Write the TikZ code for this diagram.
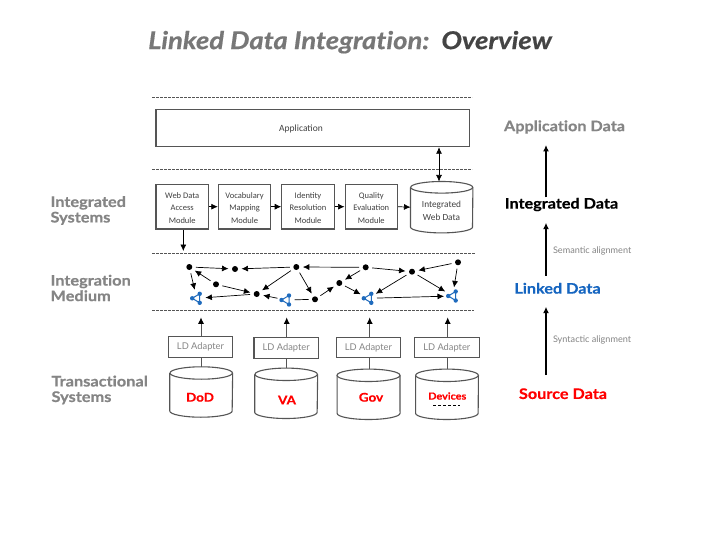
\documentclass[tikz,border=0pt]{standalone}
\usepackage{fontspec}
\setmainfont{Lato}
\newfontfamily\bodyfont{Carlito}
\newfontfamily\headfont[FakeStretch=1.12,Ligatures=NoCommon,BoldFeatures={FakeBold=0.5},BoldItalicFeatures={FakeBold=0.5}]{Lato}
\usetikzlibrary{arrows.meta}
\definecolor{labelgray}{HTML}{858585}
\definecolor{titlegray}{HTML}{777777}
\definecolor{titledark}{HTML}{444444}
\definecolor{linkblue}{HTML}{1565C0}
\definecolor{molblue}{HTML}{1F6BBD}
\definecolor{linegray}{HTML}{555555}
\tikzset{
  x=1pt,y=-1pt,
  sepline/.style={draw=linegray,line width=0.9pt,dash pattern=on 2.6pt off 1.4pt},
  modbox/.style={draw=linegray,line width=1.1pt,minimum width=52.5pt,minimum height=44.7pt,inner sep=0pt,align=center,font=\bodyfont\fontsize{8.5}{12.3}\selectfont,text=black!75},
  adbox/.style={draw=linegray,line width=1.1pt,minimum width=64.5pt,minimum height=20.8pt,inner sep=0pt,font=\fontsize{9.3}{11}\selectfont\color{labelgray}},
  store/.style={inner sep=0pt,minimum width=62.5pt,minimum height=50pt},
  srcname/.style={font=\headfont\bfseries\fontsize{12}{14}\selectfont,text=red},
  flow/.style={-{Latex[length=6.5pt,width=6pt]},black,line width=0.7pt},
  upflow/.style={-{Latex[length=6.5pt,width=6pt,black]},linegray,line width=1pt},
  bigflow/.style={-{Latex[length=6.5pt,width=6pt]},black,line width=1.8pt},
  pt/.style={circle,fill=black,inner sep=0pt,minimum size=6pt,outer sep=3.5pt},
  mol/.style={circle,inner sep=0pt,minimum size=17pt},
  sidelabel/.style={anchor=west,align=left,text=labelgray,font=\headfont\bfseries\fontsize{14.6}{15.5}\selectfont},
  datalabel/.style={font=\headfont\bfseries\fontsize{14.5}{15}\selectfont},
  note/.style={anchor=west,text=labelgray,font=\fontsize{9.1}{10}\selectfont},
}
\newcommand{\modtop}{\rule{0pt}{8.5pt}}
\newcommand{\adlabel}[1]{\raisebox{-1.3pt}{LD Adapter}\hspace{#1pt}}
\newcommand{\molglyph}[1]{%
  \draw[molblue,line width=1pt] ([xshift=-4.5pt]#1.center) -- ([xshift=3pt,yshift=4.5pt]#1.center) -- ([xshift=3pt,yshift=-4.5pt]#1.center) -- cycle;
  \fill[molblue] ([xshift=-4.5pt]#1.center) circle (2.2pt) ([xshift=3pt,yshift=4.5pt]#1.center) circle (2.2pt) ([xshift=3pt,yshift=-4.5pt]#1.center) circle (2.2pt);
}
% drum outline round a named node: #1 name, #2 x radius, #3 y radius
\newcommand{\drum}[3]{%
  \draw[linegray,line width=1.1pt,fill=white] ([yshift=-#3pt]#1.north west) -- ([yshift=#3pt]#1.south west) arc (180:360:#2pt and #3pt) -- ([yshift=-#3pt]#1.north east);
  \draw[linegray,line width=1.1pt,fill=white] ([yshift=-#3pt]#1.north) ellipse (#2pt and #3pt);
}
\begin{document}
\begin{tikzpicture}
\useasboundingbox (0,0) rectangle (720,540);
\fill[white] (0,0) rectangle (720,540);

% title
\node[anchor=west,inner sep=0pt,font=\headfont\bfseries\itshape\fontsize{24.5}{26}\selectfont] (title) at (148,42.2) {\textcolor{titlegray}{Linked Data Integration:}\hspace{12pt}\textcolor{titledark}{Overview}};

% separators
\coordinate (s1a) at (152,97.3); \coordinate (s1b) at (472,97.3);
\coordinate (s2a) at (152,169);  \coordinate (s2b) at (472,169);
\coordinate (s3a) at (152,253.7);\coordinate (s3b) at (475,253.7);
\coordinate (s4a) at (152,310.3);\coordinate (s4b) at (474,310.3);
\draw[sepline] (s1a) -- (s1b);
\draw[sepline] (s2a) -- (s2b);
\draw[sepline] (s3a) -- (s3b);
\draw[sepline] (s4a) -- (s4b);

% application
\node[draw=linegray,line width=1.1pt,minimum width=313.3pt,minimum height=37.4pt,inner sep=0pt] (app) at (312.6,128) {};
\node[font=\bodyfont\fontsize{9.5}{11}\selectfont,text=black!75] (applabel) at (301,128.6) {Application};

% modules
\node[modbox] (m1) at (182.2,206.7) {\modtop Web Data\\Access\\Module};
\node[modbox] (m2) at (244.6,206.7) {\modtop Vocabulary\\Mapping\\Module};
\node[modbox] (m3) at (308,206.7) {\modtop Identity\\Resolution\\Module};
\node[modbox] (m4) at (371.3,206.7) {\modtop Quality\\Evaluation\\Module};
\node[store,minimum width=62pt,minimum height=51pt] (iw) at (441.7,207.2) {};
\drum{iw}{31}{5.8}
\node[align=center,font=\bodyfont\fontsize{9.3}{13.5}\selectfont,text=black!75] (iwlabel) at (441.5,211) {Integrated\\Web Data};
\draw[flow] (m1.east) -- (m2.west);
\draw[flow] (m2.east) -- (m3.west);
\draw[flow] (m3.east) -- (m4.west);
\draw[flow] (m4.east) -- (iw.west);
\coordinate (vx) at (439,0);
\draw[flow,{Latex[length=6.5pt,width=6pt]}-{Latex[length=6.5pt,width=6pt]}] (app.south -| vx) -- (iw.north -| vx);
\coordinate (dn) at (183.3,251);
\draw[flow] (m1.south -| dn) -- (dn);

% integration medium
\node[pt] (a) at (189.3,267) {};
\node[pt] (b) at (235,269) {};
\node[pt] (c) at (296.3,267) {};
\node[pt] (d) at (216,284.3) {};
\node[pt] (e) at (256.7,294) {};
\node[pt] (f) at (315,299.3) {};
\node[pt] (g) at (365.7,267.3) {};
\node[pt] (h) at (412,271.7) {};
\node[pt] (i) at (458,262.3) {};
\node[pt] (j) at (339.3,283) {};
\node[mol] (w1) at (196.7,298.3) {};
\node[mol] (w2) at (286,300) {};
\node[mol] (w3) at (368.3,298.3) {};
\node[mol] (w4) at (452.7,296) {};
\molglyph{w1}\molglyph{w2}\molglyph{w3}\molglyph{w4}
\draw[flow] (a) -- (b);
\draw[flow] (c) -- (b);
\draw[flow] (g) -- (c);
\draw[flow] (a) -- (w1);
\draw[flow] (d) -- (a);
\draw[flow] (d) -- (e);
\draw[flow] (c) -- (e);
\draw[flow] (c) -- (f);
\draw[flow] (e) -- (w1);
\draw[flow] (w2) -- (e);
\draw[black,line width=0.7pt] (f) -- (w2);
\draw[flow] (f) -- (j);
\draw[flow] (j) -- (w3);
\draw[flow] (g) -- (j);
\draw[flow] (g) -- (h);
\draw[flow] (i) -- (h);
\draw[flow] (h) -- (w3);
\draw[flow] (h) -- (w4);
\draw[flow] (i) -- (w4);
\draw[flow] (w3) -- (w4);

% adapters and sources
\node[adbox] (l1) at (200.5,346.8) {\adlabel{5.6}};
\node[adbox] (l2) at (286.2,347.8) {\adlabel{9}};
\node[adbox] (l3) at (368.4,347.5) {\adlabel{6}};
\node[adbox] (l4) at (446.8,347.5) {\adlabel{6.6}};
\node[store] (c1) at (201.2,392) {};
\node[store] (c2) at (286.2,393.3) {};
\node[store] (c3) at (368.5,394.3) {};
\node[store] (c4) at (447,394.3) {};
\drum{c1}{31.2}{6.2}\drum{c2}{31.2}{6.2}\drum{c3}{31.5}{6.2}\drum{c4}{31.3}{6.2}
\node[srcname] (n1) at (200,397.3) {DoD};
\node[srcname] (n2) at (287,400) {VA};
\node[srcname] (n3) at (371,397.3) {Gov};
\node[srcname,font=\headfont\bfseries\fontsize{9.7}{12}\selectfont] (n4) at (447.3,396) {Devices};
\coordinate (da) at (433.3,405.7); \coordinate (db) at (460,405.7);
\draw[black,line width=0.9pt,dash pattern=on 3pt off 2pt] (da) -- (db);
\coordinate (t1) at (201,317.3); \coordinate (t2) at (286.7,317.3);
\coordinate (t3) at (369.7,317.3); \coordinate (t4) at (447.7,317.3);
\draw[upflow,-] (c1.north -| t1) -- (l1.south -| t1);
\draw[upflow,-] (c2.north -| t2) -- (l2.south -| t2);
\draw[upflow,-] (c3.north -| t3) -- (l3.south -| t3);
\draw[upflow,-] (c4.north -| t4) -- (l4.south -| t4);
\draw[upflow] (l1.north -| t1) -- (t1);
\draw[upflow] (l2.north -| t2) -- (t2);
\draw[upflow] (l3.north -| t3) -- (t3);
\draw[upflow] (l4.north -| t4) -- (t4);

% left labels
\node[sidelabel] (ls) at (47,210.5) {Integrated\\Systems};
\node[sidelabel] (lm) at (47,288) {Integration\\Medium};
\node[sidelabel] (lt) at (48,390) {Transactional\\Systems};

% right column
\node[datalabel,text=labelgray] (r1) at (564.5,127) {Application Data};
\node[datalabel,text=black] (r2) at (561.5,204.5) {Integrated Data};
\node[datalabel,text=linkblue] (r3) at (557.5,288.3) {Linked Data};
\node[datalabel,text=red] (r4) at (563,393.7) {Source Data};
\node[note] (n5) at (549.5,250.6) {Semantic alignment};
\node[note] (n6) at (549.5,340) {Syntactic alignment};
\coordinate (ax1) at (546,145); \coordinate (ax2) at (546,222.7); \coordinate (ax3) at (546,306.7);
\coordinate (bx1) at (546,197.3); \coordinate (bx2) at (546,275.7); \coordinate (bx3) at (546,375);
\draw[bigflow] (bx1) -- (ax1);
\draw[bigflow] (bx2) -- (ax2);
\draw[bigflow] (bx3) -- (ax3);
\end{tikzpicture}
\end{document}
